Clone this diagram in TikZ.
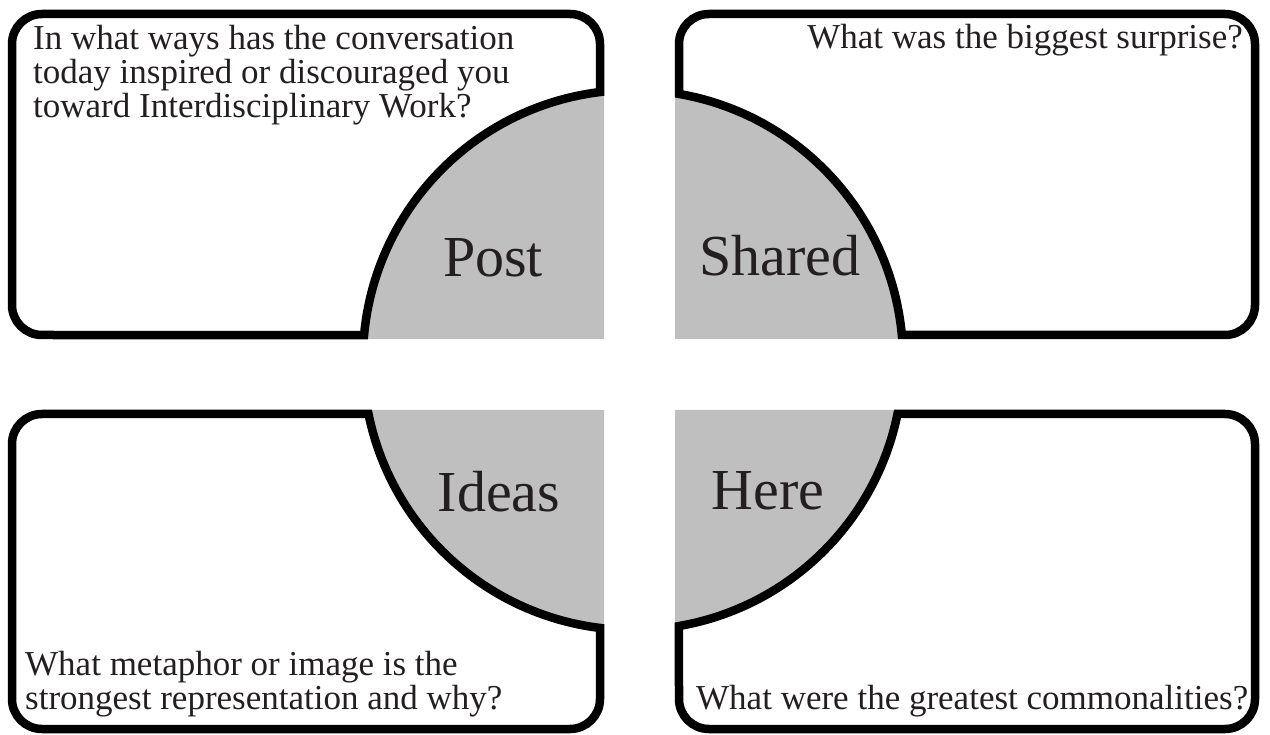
\documentclass[tikz,border=0pt]{standalone}
\usepackage{fontspec}
\setmainfont{Liberation Serif}
\definecolor{hubgray}{RGB}{191,191,191}
\definecolor{inkgray}{RGB}{35,31,32}

\begin{document}
\begin{tikzpicture}[x=1pt,y=-1pt]

	\tikzstyle card lines=[line width=8.5pt];
	\tikzstyle hub fill=[fill=hubgray];
	\tikzstyle question text=[inkgray, inner sep=0pt, align=left, font=\fontsize{35}{34}\selectfont];
	\tikzstyle hub label=[inkgray, inner sep=0pt, anchor=base, font=\fontsize{58}{58}\selectfont];

	\useasboundingbox (0,0) rectangle (1270,735);
	\coordinate (hub) at (633,360);

	\begin{scope}
		\clip (0,0) rectangle (604,339) (675,0) rectangle (1270,339)
			(0,410) rectangle (604,735) (675,410) rectangle (1270,735);
		\fill[hub fill] (hub) circle[radius=270];
	\end{scope}

	\draw[card lines] (600,92.02) arc[start angle=263, end angle=185.31, radius=270]
		-- (42,335) arc[start angle=90, end angle=180, radius=30]
		-- (12,44) arc[start angle=180, end angle=270, radius=30]
		-- (570,14) arc[start angle=270, end angle=360, radius=30] -- cycle;
	\draw[card lines] (901.84,335) arc[start angle=-5.31, end angle=-80.19, radius=270]
		-- (679,44) arc[start angle=180, end angle=270, radius=30]
		-- (1225,14) arc[start angle=270, end angle=360, radius=30]
		-- (1255,305) arc[start angle=0, end angle=90, radius=30] -- cycle;
	\draw[card lines] (368.5,414) arc[start angle=168.46, end angle=97, radius=270]
		-- (600,699) arc[start angle=0, end angle=90, radius=30]
		-- (42,729) arc[start angle=90, end angle=180, radius=30]
		-- (12,444) arc[start angle=180, end angle=270, radius=30] -- cycle;
	\draw[card lines] (897.5,414) arc[start angle=11.54, end angle=80.19, radius=270]
		-- (679,699) arc[start angle=180, end angle=90, radius=30]
		-- (1225,729) arc[start angle=90, end angle=0, radius=30]
		-- (1255,444) arc[start angle=0, end angle=-90, radius=30] -- cycle;

		\node[question text, anchor=north west] (postq) at (33,25) {In what ways has the conversation\\today inspired or discouraged you\\toward Interdisciplinary Work?};
		\node[question text, anchor=base east] (sharedq) at (1243,49) {What was the biggest surprise?};
		\node[question text, anchor=north west] (ideasq) at (25,651) {What metaphor or image is the\\strongest representation and why?};
		\node[question text, anchor=base west] (hereq) at (696,709) {What were the greatest commonalities?};

		\node[hub label] (post) at (493,277) {Post};
		\node[hub label] (shared) at (780,276) {Shared};
		\node[hub label] (ideas) at (499,511) {Ideas};
		\node[hub label] (here) at (768,509) {Here};

\end{tikzpicture}
\end{document}
